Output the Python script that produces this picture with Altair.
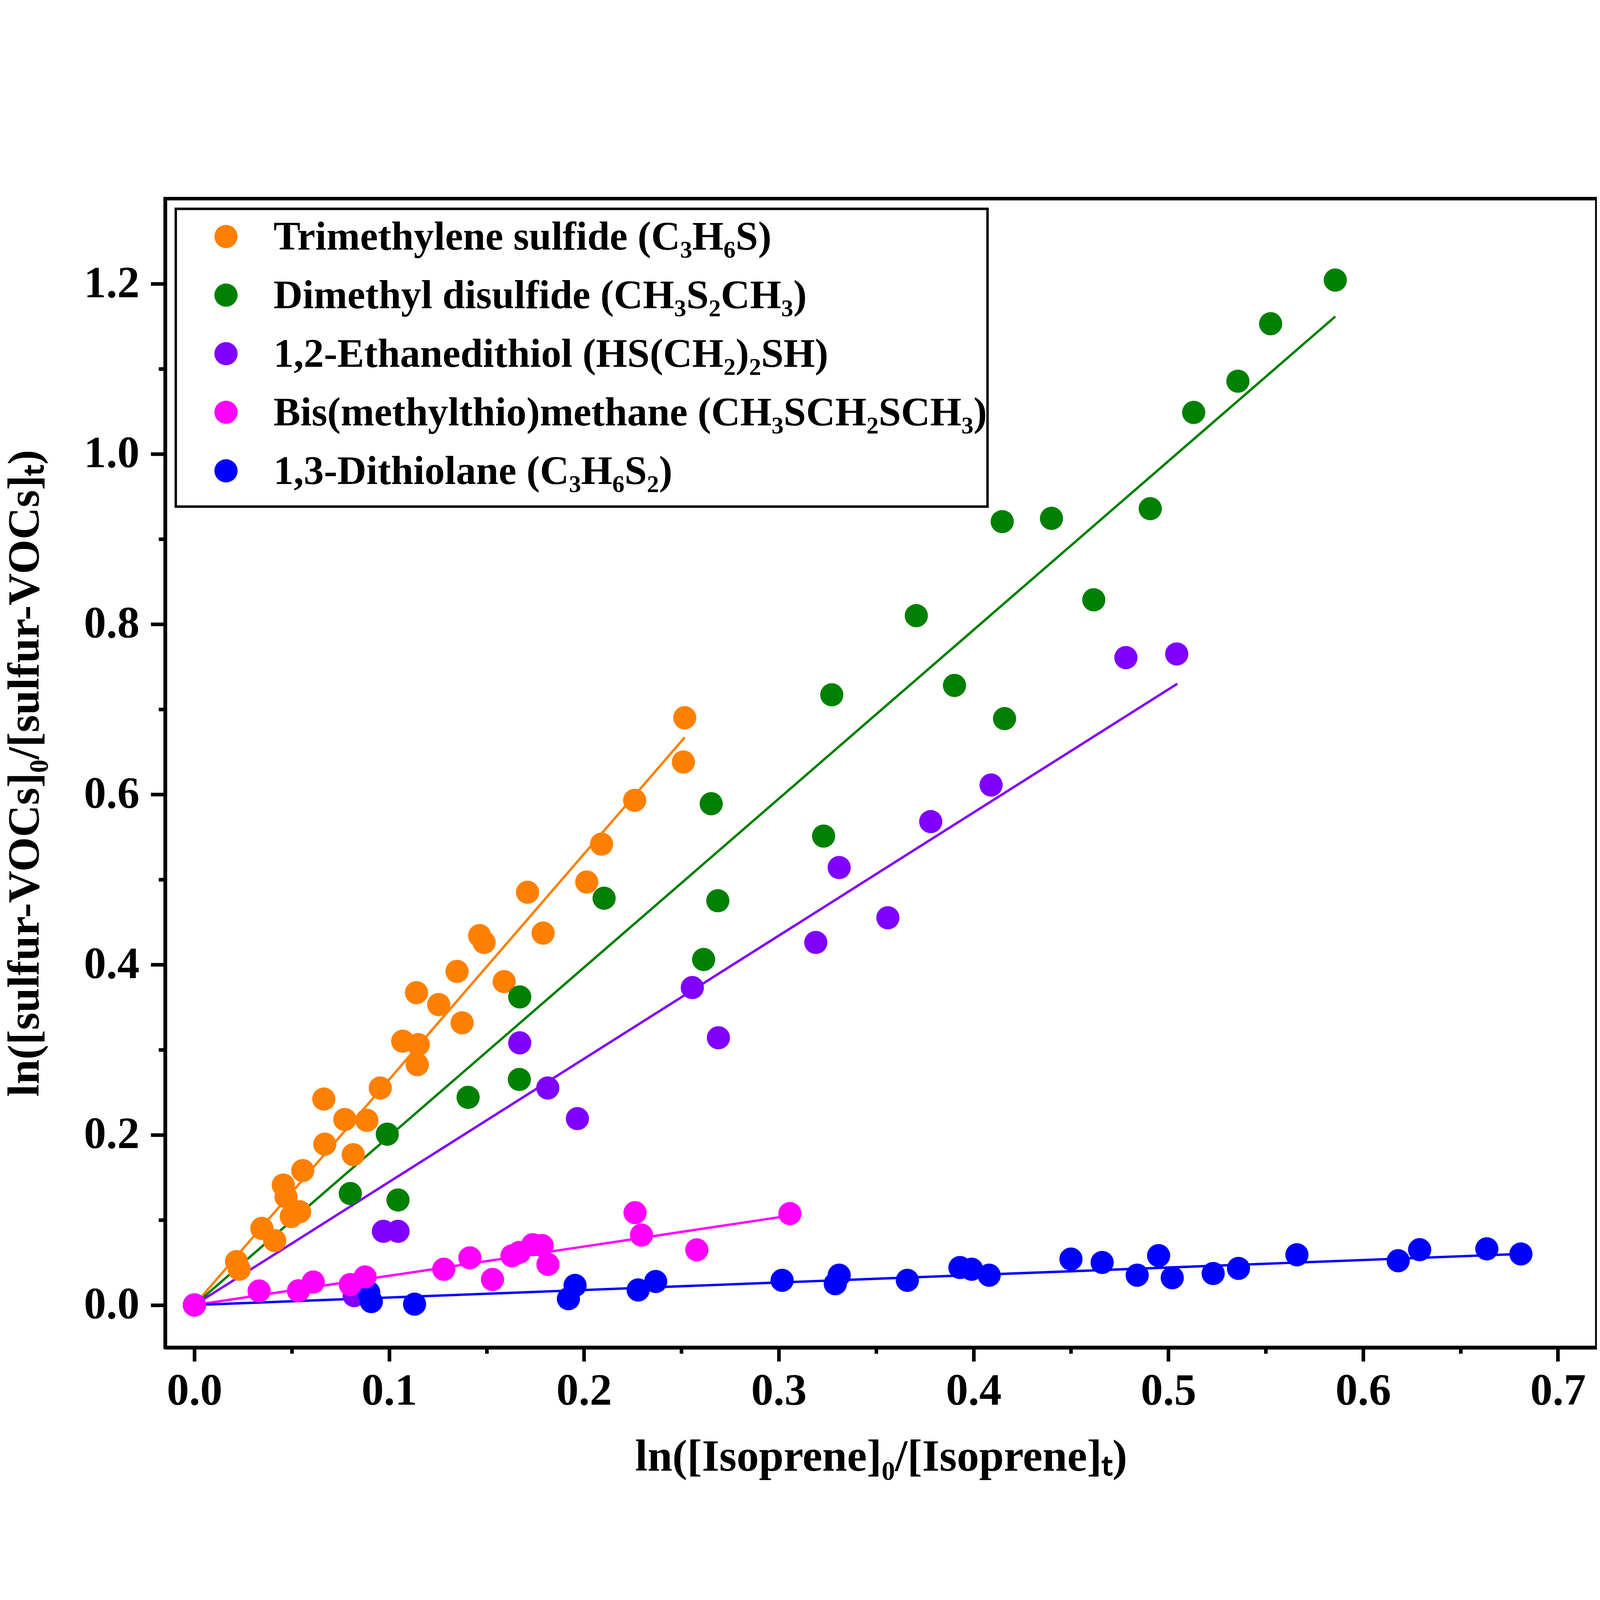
import altair as alt
import pandas as pd

# ---------------- data ----------------
series_names = [
    "Trimethylene sulfide (C₃H₆S)",
    "Dimethyl disulfide (CH₃S₂CH₃)",
    "1,2-Ethanedithiol (HS(CH₂)₂SH)",
    "Bis(methylthio)methane (CH₃SCH₂SCH₃)",
    "1,3-Dithiolane (C₃H₆S₂)",
]
series_colors = ["#FF8000", "#008000", "#8000FF", "#FF00FF", "#0000FF"]

tms_x = [0.0, 0.0216, 0.023, 0.0346, 0.0412, 0.0456, 0.047, 0.0497, 0.054, 0.0556,
         0.0664, 0.0669, 0.0772, 0.0815, 0.0885, 0.0954, 0.1069, 0.1144, 0.1149, 0.114,
         0.1254, 0.1348, 0.1374, 0.1464, 0.1487, 0.159, 0.171, 0.179, 0.2014, 0.209,
         0.226, 0.251, 0.2517]
tms_y = [0.0, 0.051, 0.042, 0.090, 0.0757, 0.141, 0.127, 0.104, 0.1096, 0.158,
         0.242, 0.189, 0.218, 0.1767, 0.217, 0.255, 0.310, 0.2824, 0.306, 0.367,
         0.353, 0.392, 0.3316, 0.434, 0.426, 0.380, 0.485, 0.437, 0.497, 0.5415,
         0.593, 0.638, 0.690]

dmds_x = [0.0, 0.080, 0.099, 0.1045, 0.1405, 0.1668, 0.167, 0.2103, 0.2614, 0.2653,
          0.2687, 0.323, 0.3272, 0.3706, 0.3902, 0.4147, 0.4159, 0.440, 0.4617, 0.4907,
          0.513, 0.5357, 0.5525, 0.5857]
dmds_y = [0.0, 0.131, 0.2007, 0.1234, 0.244, 0.265, 0.362, 0.478, 0.406, 0.589,
          0.475, 0.551, 0.717, 0.810, 0.728, 0.9205, 0.689, 0.9243, 0.8286, 0.9357,
          1.0488, 1.0855, 1.153, 1.2043]

edt_x = [0.0, 0.082, 0.097, 0.1045, 0.167, 0.1814, 0.1966, 0.2556, 0.269, 0.319,
         0.331, 0.356, 0.378, 0.409, 0.4782, 0.5043]
edt_y = [0.0, 0.011, 0.0866, 0.0866, 0.308, 0.255, 0.219, 0.373, 0.314, 0.426,
         0.514, 0.455, 0.568, 0.611, 0.7607, 0.765]

bmtm_x = [0.0, 0.0332, 0.0534, 0.061, 0.080, 0.0876, 0.128, 0.1414, 0.153, 0.163,
          0.1668, 0.1737, 0.1785, 0.1815, 0.2262, 0.2295, 0.2579, 0.3057]
bmtm_y = [0.0, 0.0165, 0.0167, 0.027, 0.024, 0.033, 0.042, 0.0554, 0.030, 0.0578,
          0.0618, 0.0708, 0.0698, 0.0477, 0.1085, 0.0822, 0.0648, 0.1074]

dtl_x = [0.0, 0.0895, 0.0908, 0.113, 0.192, 0.1954, 0.2278, 0.2368, 0.3017, 0.329,
         0.331, 0.366, 0.393, 0.399, 0.408, 0.450, 0.466, 0.484, 0.495, 0.502,
         0.523, 0.536, 0.566, 0.618, 0.629, 0.6635, 0.681]
dtl_y = [0.0, 0.0147, 0.004, 0.001, 0.0074, 0.023, 0.0177, 0.0276, 0.029, 0.025,
         0.035, 0.029, 0.044, 0.042, 0.035, 0.054, 0.050, 0.035, 0.058, 0.032,
         0.037, 0.043, 0.059, 0.052, 0.065, 0.066, 0.060]

# fitted straight lines (start and end points)
fit_x0 = [0.0, 0.0, 0.0, 0.0, 0.0]
fit_y0 = [0.0, 0.0, 0.0, 0.0, 0.0]
fit_x1 = [0.2517, 0.5857, 0.5046, 0.3057, 0.681]
fit_y1 = [0.667, 1.1615, 0.730, 0.105, 0.060]

x_major_ticks = [0.0, 0.1, 0.2, 0.3, 0.4, 0.5, 0.6, 0.7]
x_minor_ticks = [0.05, 0.15, 0.25, 0.35, 0.45, 0.55, 0.65]
y_major_ticks = [0.0, 0.2, 0.4, 0.6, 0.8, 1.0, 1.2]
y_minor_ticks = [0.1, 0.3, 0.5, 0.7, 0.9, 1.1]

# ---------------- tables ----------------
# drawing order of the points: orange, green, purple, blue, magenta (on top)
point_sets = [
    (series_names[0], tms_x, tms_y),
    (series_names[1], dmds_x, dmds_y),
    (series_names[2], edt_x, edt_y),
    (series_names[4], dtl_x, dtl_y),
    (series_names[3], bmtm_x, bmtm_y),
]
rows = []
for name, xs, ys in point_sets:
    for xv, yv in zip(xs, ys):
        rows.append({"series": name, "x": xv, "y": yv})
pts_df = pd.DataFrame(rows)

fit_rows = []
for i, name in enumerate(series_names):
    fit_rows.append({"fit": name, "x": fit_x0[i], "y": fit_y0[i]})
    fit_rows.append({"fit": name, "x": fit_x1[i], "y": fit_y1[i]})
fit_df = pd.DataFrame(fit_rows)

legend_df = pd.DataFrame({"series": series_names})
box_df = pd.DataFrame({"box": [0]})

FONT = "Liberation Serif"

x_scale = alt.Scale(domain=[-0.015, 0.72], nice=False, zero=False)
y_scale = alt.Scale(domain=[-0.05, 1.3], nice=False, zero=False)
color_scale = alt.Scale(domain=series_names, range=series_colors)

x_major = alt.Axis(
    values=x_major_ticks, format=".1f", orient="bottom",
    title="ln([Isoprene]₀/[Isoprene]ₜ)",
    tickSize=46, tickWidth=12, labelPadding=26, titlePadding=92,
    domain=True, domainWidth=12, grid=False, labelLimit=2000,
)
x_minor = alt.Axis(
    values=x_minor_ticks, orient="bottom", labels=False, title=None,
    tickSize=20, tickWidth=12, domain=False, grid=False,
)
y_major = alt.Axis(
    values=y_major_ticks, format=".1f", orient="left",
    title="ln([sulfur-VOCs]₀/[sulfur-VOCs]ₜ)",
    tickSize=48, tickWidth=12, labelPadding=38, titlePadding=190,
    domain=True, domainWidth=12, grid=False, labelLimit=2000,
)
y_minor = alt.Axis(
    values=y_minor_ticks, orient="left", labels=False, title=None,
    tickSize=22, tickWidth=12, domain=False, grid=False,
)

lines = alt.Chart(fit_df).mark_line(strokeWidth=8).encode(
    x=alt.X("x:Q", scale=x_scale, axis=x_major),
    y=alt.Y("y:Q", scale=y_scale, axis=y_major),
    stroke=alt.Stroke("fit:N", scale=color_scale, legend=None),
    detail="fit:N",
)

points = alt.Chart(pts_df).mark_circle(size=5945, opacity=1).encode(
    x=alt.X("x:Q", scale=x_scale, axis=x_minor),
    y=alt.Y("y:Q", scale=y_scale, axis=y_minor),
    color=alt.Color("series:N", scale=color_scale, legend=None),
)

# ---------------- legend box drawn inside the plot ----------------
legend_y = alt.Y("series:N", axis=None,
                 scale=alt.Scale(type="point", domain=series_names,
                                 range=[126, 905], padding=0))

legend_box = alt.Chart(box_df).mark_rect(
    fill="white", stroke="black", strokeWidth=8
).encode(
    x=alt.value(35), x2=alt.value(2734), y=alt.value(34), y2=alt.value(1024)
)

legend_symbols = alt.Chart(legend_df).mark_circle(size=5945, opacity=1).encode(
    x=alt.value(202),
    y=legend_y,
    color=alt.Color("series:N", scale=color_scale, legend=None),
)

legend_labels = alt.Chart(legend_df).mark_text(
    align="left", baseline="alphabetic", dy=44,
    font=FONT, fontSize=134, fontWeight="bold", color="black",
).encode(
    x=alt.value(360),
    y=legend_y,
    text="series:N",
)

chart = (
    alt.layer(lines, points, legend_box, legend_symbols, legend_labels)
    .resolve_scale(y="independent")
    .resolve_axis(x="independent", y="independent")
    .properties(width=4760, height=3820,
                padding={"left": 0, "top": 12, "right": 0, "bottom": 0})
    .configure_view(stroke="black", strokeWidth=12)
    .configure_axis(
        labelFont=FONT, titleFont=FONT,
        labelFontWeight="bold", titleFontWeight="bold",
        labelFontSize=148, titleFontSize=148,
        labelColor="black", titleColor="black",
        tickColor="black", domainColor="black",
    )
)

chart.save("out.html", embed_options={"renderer": "svg", "actions": False})
